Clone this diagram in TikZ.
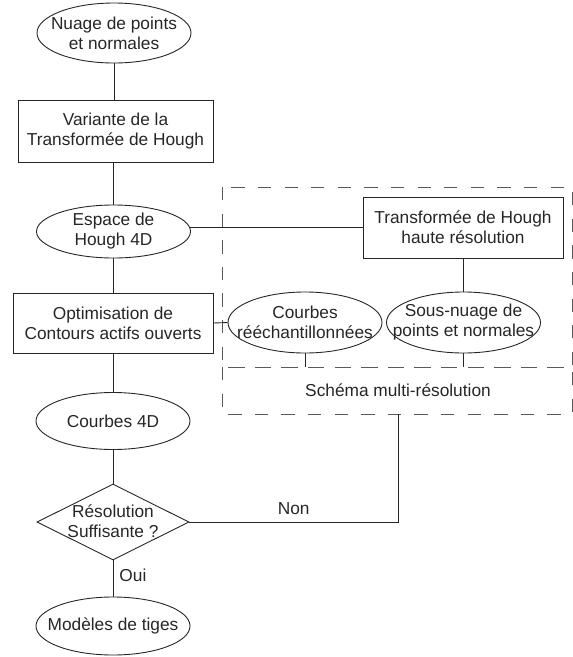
\documentclass[tikz,border=0pt]{standalone}
\usepackage{fontspec}
\setmainfont{Liberation Sans}
\usetikzlibrary{shapes.geometric}
\begin{document}
\begin{tikzpicture}[x=1pt,y=-1pt,
  every node/.style={font=\fontsize{17.3}{20}\selectfont, align=center, inner sep=0pt, text=black!85},
  line/.style={draw=black!85, line width=0.9pt},
  ell/.style={ellipse, line, minimum width=154pt, minimum height=#1},
  box/.style={rectangle, line, minimum width=#1},
  dia/.style={diamond, line, minimum width=152pt, minimum height=76pt},
  dbox/.style={draw=black!65, line width=0.9pt, dash pattern=on 13.3pt off 13.3pt}]
\useasboundingbox (0,0) rectangle (573,657);
% dashed frames
\draw[dbox] (222,187) rectangle (572,367);
\draw[dbox] (222,367) rectangle (572,414);
\coordinate (frametop) at (398,367);
\coordinate (framebot) at (398,414);
\node (schema) at (398,390) {Schéma multi-résolution};
% main column
\node[ell=60pt] (nuage) at (114,33) {};
\node (nuaget) at (nuage) {Nuage de points\\et normales};
\node[box=195pt, minimum height=62pt] (variante) at (115.5,131) {Variante de la\\Transformée de Hough};
\node[ell=53pt] (espace) at (113.5,231.5) {};
\node (espacet) at (espace) {Espace de\\Hough 4D};
\node[box=200pt, minimum height=60pt] (optim) at (113,323) {Optimisation de\\Contours actifs ouverts};
\node[ell=57pt] (c4d) at (113,421) {};
\node (c4dt) at (c4d) {Courbes 4D};
\node[dia] (dec) at (113,522) {};
\node (dect) at (113,521) {Résolution\\Suffisante ?};
\node[ell=58pt] (mod) at (113,626) {};
\node (modt) at (mod) {Modèles de tiges};
% right part
\node[box=200pt, minimum height=61pt] (transf) at (463,227.5) {Transformée de Hough\\haute résolution};
\node[ell=61pt] (cr) at (305,322.5) {};
\node (crt) at (cr) {Courbes\\rééchantillonnées};
\node[ell=61pt] (sn) at (463.5,322.5) {};
\node (snt) at (sn) {Sous-nuage de\\points et normales};
% connectors
\draw[line] (nuage.south) -- (nuage.south |- variante.north);
\draw[line] (espace.north |- variante.south) -- (espace.north);
\draw[line] (espace.south) -- (espace.south |- optim.north);
\draw[line] (c4d.north |- optim.south) -- (c4d.north);
\draw[line] (c4d.south) -- (dec.north);
\draw[line] (dec.south) -- node[right=6pt, pos=0.42] (oui) {Oui} (mod.north);
\draw[line] (espace.3) -- (espace.3 -| transf.west);
\draw[line] (transf.south) -- (transf.south |- sn.north);
\draw[line] (optim.east) -- (cr.west);
\draw[line] (cr.south) -- (cr.south |- frametop);
\draw[line] (sn.south) -- (sn.south |- frametop);
\draw[line] (dec.east) -- node[above=7pt, pos=0.5] (non) {Non} (dec.east -| framebot) -- (framebot);
\end{tikzpicture}
\end{document}
